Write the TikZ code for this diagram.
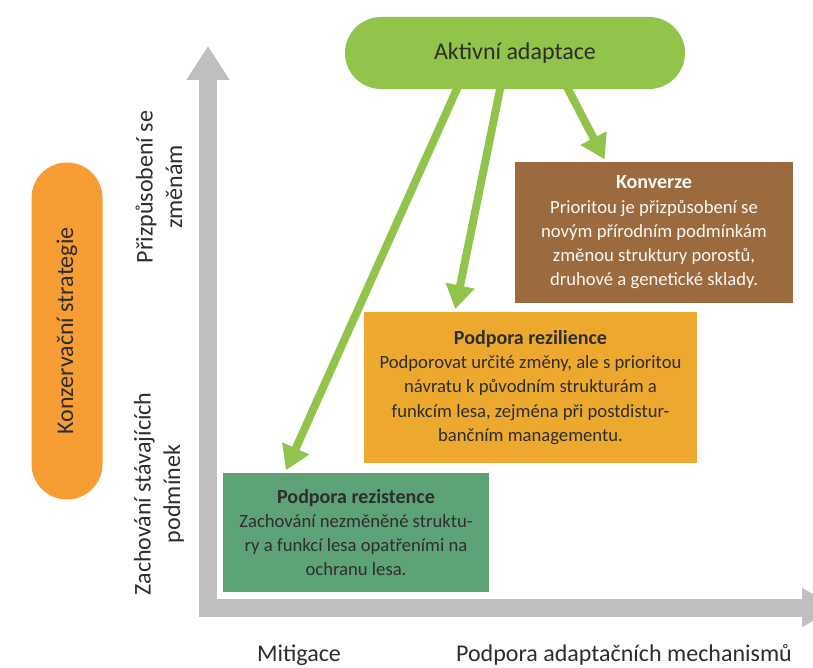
\documentclass[tikz,border=0pt]{standalone}
\usepackage{fontspec}
\setmainfont{Carlito}
\usepackage{xcolor}
\usetikzlibrary{calc,arrows.meta,positioning}

\definecolor{adaptgreen}{RGB}{146,196,76}
\definecolor{consorange}{RGB}{247,157,52}
\definecolor{convbrown}{RGB}{155,106,62}
\definecolor{resilyellow}{RGB}{237,169,46}
\definecolor{resistgreen}{RGB}{94,163,120}
\definecolor{axisgray}{RGB}{191,191,191}
\definecolor{textdark}{RGB}{45,45,45}

\newcommand{\boxtitle}[1]{{\fontsize{15}{18.2}\selectfont\bfseries #1}}

\begin{document}
\begin{tikzpicture} [x=0.75pt, y=-0.75pt,
	   pill/.style 2 args = {rectangle, minimum width=#1, minimum height=#2, inner sep=0pt,
	                         text=textdark, font=\fontsize{18}{22}\selectfont},
	   strategybox/.style 2 args = {rectangle, minimum width=#1, minimum height=#2, inner sep=0pt,
	                                align=center, font=\fontsize{14}{18.2}\selectfont},
	   axislabel/.style = {text=textdark, align=center, font=\fontsize{18}{22}\selectfont},
	   greenarrow/.style = {draw=adaptgreen, line width=6pt, -{Triangle[length=18pt,width=21pt]},
	                        shorten >=2pt, shorten <=-4pt},
	   axisarrow/.style = {draw=axisgray, line width=13.5pt, line join=miter}]
	\useasboundingbox (0,0) rectangle (813,667);
	%% Axes
	\coordinate (origin) at (208,607.5);
	\coordinate (ytip) at (208,46);
	\coordinate (xtip) at (836,607.5);
	\draw [axisarrow, {Triangle[length=25.5pt,width=30.75pt]}-{Triangle[length=25.5pt,width=27.75pt]}]
		(ytip) -- (origin) -- (xtip);
	\node [axislabel, rotate=90] (changelbl) at (159,187) {Přizpůsobení se\\změnám};
	\node [axislabel, rotate=90] (keeplbl) at (159,494) {Zachování stávajících\\podmínek};
	\node [axislabel] (mitlbl) at (299,655) {Mitigace};
	\node [axislabel] (mechlbl) at (624,655) {Podpora adaptačních mechanismů};
	%% Strategies
	\node [pill={252.75pt}{53.25pt}, rounded corners=26.6pt, fill=consorange, rotate=90]
		(conserv) at (67,331) {Konzervační strategie};
	\node [pill={255pt}{54pt}, rounded corners=27pt, fill=adaptgreen]
		(adapt) at (515,53) {Aktivní adaptace};
	\node [strategybox={208.5pt}{105.75pt}, fill=convbrown, text=white!95!convbrown]
		(conv) at (654,232.5) {\boxtitle{Konverze}\\Prioritou je přizpůsobení se\\novým přírodním podmínkám\\změnou struktury porostů,\\druhové a genetické sklady.};
	\node [strategybox={249.75pt}{113.25pt}, fill=resilyellow, text=textdark]
		(resil) at (530.5,387.5) {\boxtitle{Podpora rezilience}\\Podporovat určité změny, ale s prioritou\\návratu k původním strukturám a\\funkcím lesa, zejména při postdistur-\\bančním managementu.};
	\node [strategybox={199.5pt}{89.25pt}, fill=resistgreen, text=textdark]
		(resist) at (356,532.5) {\boxtitle{Podpora rezistence}\\Zachování nezměněné struktu-\\ry a funkcí lesa opatřeními na\\ochranu lesa.};
	%% Arrows
	\draw [greenarrow] ($(adapt.south west)!0.656!(adapt.south east)$) -- ($(conv.north west)!0.327!(conv.north east)$);
	\draw [greenarrow] ($(adapt.south west)!0.456!(adapt.south east)$) -- ($(resil.north west)!0.273!(resil.north east)$);
	\draw [greenarrow] ($(adapt.south west)!0.329!(adapt.south east)$) -- ($(resist.north west)!0.233!(resist.north east)$);
\end{tikzpicture}
\end{document}
